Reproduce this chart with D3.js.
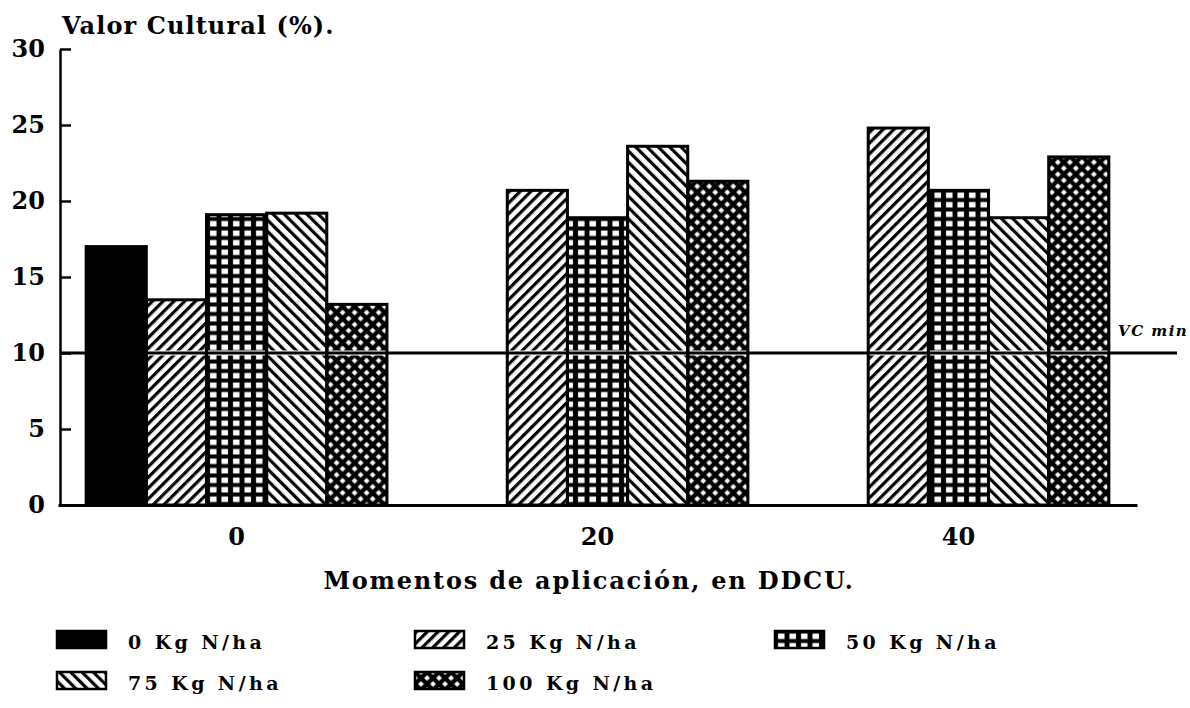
<!DOCTYPE html>
<html>
<head>
<meta charset="utf-8">
<script src="https://cdn.jsdelivr.net/npm/d3@7"></script>
<style>
  body { margin: 0; background: #fff; }
  text { font-family: "DejaVu Serif", serif; font-weight: bold; fill: #000; }
</style>
</head>
<body>
<svg width="1190" height="708"></svg>
<script>
// moments of application (DDCU) on the x axis
const categories = ["0", "20", "40"];
const seriesNames = ["0 Kg N/ha", "25 Kg N/ha", "50 Kg N/ha", "75 Kg N/ha", "100 Kg N/ha"];

// Valor Cultural (%) per nitrogen dose, one value per moment
const n0   = [17.0, null, null];
const n25  = [13.5, 20.7, 24.8];
const n50  = [19.1, 18.9, 20.7];
const n75  = [19.2, 23.6, 18.9];
const n100 = [13.2, 21.3, 22.9];

const yTicks = [0, 5, 10, 15, 20, 25, 30];
const vcMin = 10;

const seriesValues = [n0, n25, n50, n75, n100];
const fills = ["#000", "url(#p25)", "url(#p50)", "url(#p75)", "url(#p100)"];

const svg = d3.select("svg");

// hatch patterns
const defs = svg.append("defs");
function stripes(id, angle, size, w) {
  const p = defs.append("pattern").attr("id", id)
    .attr("patternUnits", "userSpaceOnUse")
    .attr("width", size).attr("height", size)
    .attr("patternTransform", `rotate(${angle})`);
  p.append("rect").attr("width", size).attr("height", size).attr("fill", "#fff");
  p.append("rect").attr("width", w).attr("height", size).attr("fill", "#000");
}
stripes("p25", 45, 7.6, 3.2);
stripes("p75", -45, 8, 3.2);

const g50 = defs.append("pattern").attr("id", "p50")
  .attr("patternUnits", "userSpaceOnUse").attr("width", 11.5).attr("height", 9.5);
g50.append("rect").attr("width", 11.5).attr("height", 9.5).attr("fill", "#000");
g50.append("rect").attr("x", 3).attr("y", 2.5).attr("width", 6.5).attr("height", 5.5).attr("fill", "#fff");

const g100 = defs.append("pattern").attr("id", "p100")
  .attr("patternUnits", "userSpaceOnUse").attr("width", 8.5).attr("height", 8.5)
  .attr("patternTransform", "rotate(45)");
g100.append("rect").attr("width", 8.5).attr("height", 8.5).attr("fill", "#000");
g100.append("rect").attr("x", 2.2).attr("y", 2.2).attr("width", 4.1).attr("height", 4.1).attr("fill", "#fff");

// scales
const x0 = d3.scaleBand().domain(categories).range([58, 1137])
  .paddingInner(1 / 6).paddingOuter(0.078);
const x1 = d3.scaleBand().domain(seriesNames).range([0, x0.bandwidth()]);
const y = d3.scaleLinear().domain([0, 30]).range([505, 49]);

// bars data
const bars = [];
categories.forEach((c, i) => {
  seriesNames.forEach((s, j) => {
    const v = seriesValues[j][i];
    if (v != null) bars.push({ cat: c, series: s, idx: j, value: v });
  });
});

const barG = svg.append("g");
barG.selectAll("rect")
  .data(bars.filter(d => d.idx > 0))
  .join("rect")
    .attr("x", d => x0(d.cat) + x1(d.series))
    .attr("y", d => y(d.value))
    .attr("width", x1.bandwidth())
    .attr("height", d => y(0) - y(d.value))
    .attr("fill", d => fills[d.idx]);

// VC min reference line
svg.append("line")
  .attr("x1", 60).attr("x2", 1177)
  .attr("y1", y(vcMin)).attr("y2", y(vcMin))
  .attr("stroke", "#fff").attr("stroke-width", 5);
svg.append("line")
  .attr("x1", 60).attr("x2", 1177)
  .attr("y1", y(vcMin)).attr("y2", y(vcMin))
  .attr("stroke", "#000").attr("stroke-width", 3);

// outlines on top, solid bar last
svg.append("g").selectAll("rect")
  .data(bars)
  .join("rect")
    .attr("x", d => x0(d.cat) + x1(d.series))
    .attr("y", d => y(d.value))
    .attr("width", x1.bandwidth())
    .attr("height", d => y(0) - y(d.value))
    .attr("fill", d => d.idx === 0 ? "#000" : "none")
    .attr("stroke", "#000")
    .attr("stroke-width", 3);

svg.append("text")
  .attr("x", 1118).attr("y", 336)
  .style("font-size", "15px").style("font-style", "italic")
  .style("letter-spacing", "1.5px")
  .text("VC min");

// axes
const yAxis = svg.append("g")
  .attr("transform", "translate(60,0)")
  .call(d3.axisLeft(y).tickValues(yTicks).tickSizeInner(-11).tickSizeOuter(0).tickPadding(15));
yAxis.selectAll("path, line").attr("stroke", "#000").attr("stroke-width", 2.5);
yAxis.selectAll("text").style("font-size", "24px").style("font-family", "DejaVu Serif").style("font-weight", "bold");

const xAxis = svg.append("g")
  .attr("transform", "translate(0,505)")
  .call(d3.axisBottom(x0).tickSize(0).tickPadding(23));
xAxis.select("path").attr("stroke", "#000").attr("stroke-width", 3);
xAxis.selectAll("text").style("font-size", "24px").style("font-family", "DejaVu Serif").style("font-weight", "bold");

// titles
svg.append("text")
  .attr("x", 62).attr("y", 34)
  .style("font-size", "24px")
  .style("letter-spacing", "1.1px")
  .text("Valor Cultural (%).");

svg.append("text")
  .attr("x", 589).attr("y", 589)
  .attr("text-anchor", "middle")
  .style("font-size", "24px")
  .style("letter-spacing", "1.8px")
  .text("Momentos de aplicación, en DDCU.");

// legend
const legendPos = [
  { x: 57, y: 631 }, { x: 415, y: 631 }, { x: 775, y: 631 },
  { x: 57, y: 672 }, { x: 415, y: 672 }
];
const leg = svg.append("g").selectAll("g")
  .data(seriesNames)
  .join("g")
    .attr("transform", (d, i) => `translate(${legendPos[i].x},${legendPos[i].y})`);
leg.append("rect")
  .attr("width", 49).attr("height", 17)
  .attr("fill", (d, i) => fills[i])
  .attr("stroke", "#000").attr("stroke-width", 2.5);
leg.append("text")
  .attr("x", 71).attr("y", 18)
  .style("font-size", "19px")
  .style("letter-spacing", "3.4px")
  .text(d => d);
</script>
</body>
</html>
